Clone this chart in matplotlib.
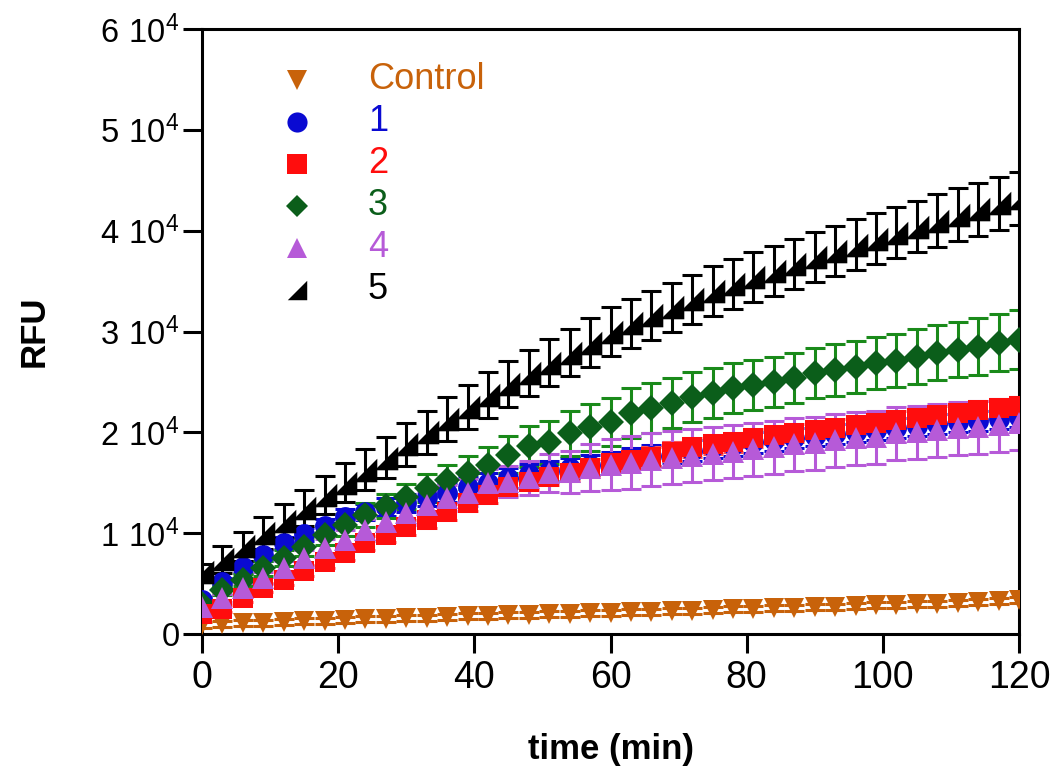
import numpy as np
import matplotlib
matplotlib.use("Agg")
import matplotlib.pyplot as plt

plt.rcParams['font.family'] = ['Liberation Sans', 'DejaVu Sans']
plt.rcParams['mathtext.fontset'] = 'custom'
plt.rcParams['mathtext.rm'] = 'Liberation Sans'

time_min = list(range(0, 121, 3))

control = [900, 1000, 1050, 1100, 1200, 1250, 1300, 1400, 1450, 1500, 1550, 1600, 1650, 1750,
           1800, 1850, 1900, 1950, 2000, 2050, 2100, 2150, 2200, 2250, 2300, 2400, 2450, 2500,
           2550, 2600, 2650, 2700, 2800, 2850, 2900, 2950, 3000, 3100, 3200, 3300, 3400]
control_err = [300] * 41

s1 = [3400, 5200, 6600, 7800, 9000, 9900, 10700, 11600, 12100, 12600, 13000, 13600, 14000, 14600,
      15000, 15500, 15900, 16200, 16500, 16800, 17100, 17400, 17700, 18000, 18200, 18500, 18700,
      19000, 19200, 19400, 19600, 19800, 20000, 20200, 20400, 20600, 20800, 21000, 21100, 21300, 21500]
s1_err = [300, 400, 500, 550, 600, 650, 700, 750, 800, 850, 900, 900, 950, 950, 1000, 1000, 1000,
          1000, 1000, 1000, 1000, 1000, 1000, 1000, 1000, 1000, 1000, 1000, 1000, 1000, 1000, 1000,
          1000, 1000, 1000, 1000, 1000, 1000, 1000, 1000, 1000]

s2 = [2000, 2500, 3600, 4600, 5400, 6300, 7100, 8000, 9000, 9800, 10600, 11300, 12100, 13000,
      13800, 14600, 15100, 15600, 16000, 16500, 17000, 17300, 17600, 18100, 18500, 18800, 19000,
      19400, 19700, 19900, 20200, 20400, 20700, 20900, 21200, 21400, 21700, 21900, 22200, 22400, 22600]
s2_err = [300, 350, 400, 450, 500, 550, 600, 650, 700, 700, 750, 750, 800, 800, 800, 850, 850, 850,
          850, 900, 900, 900, 900, 900, 900, 900, 900, 900, 900, 900, 900, 900, 900, 900, 900, 900,
          900, 900, 900, 900, 900]

s3 = [3000, 4400, 5400, 6500, 7500, 8600, 9800, 10800, 11800, 12700, 13600, 14500, 15300, 16000,
      16800, 17800, 18600, 19000, 19900, 20500, 21000, 21900, 22400, 22900, 23500, 23900, 24400,
      24700, 25000, 25400, 25900, 26200, 26500, 26900, 27100, 27500, 27900, 28200, 28500, 28900, 29200]
s3_err = [400, 500, 600, 700, 800, 900, 1000, 1100, 1150, 1200, 1250, 1400, 1500, 1650, 1750, 1850,
          2000, 2100, 2200, 2300, 2400, 2450, 2450, 2450, 2450, 2450, 2450, 2450, 2450, 2500, 2500,
          2550, 2600, 2600, 2650, 2700, 2700, 2750, 2800, 2850, 2900]

s4 = [2700, 3600, 4600, 5600, 6500, 7500, 8500, 9300, 10300, 11100, 12000, 12800, 13500, 14000,
      15000, 15100, 15500, 16000, 16100, 16500, 16800, 17000, 17300, 17500, 17700, 17900, 18100,
      18300, 18500, 18800, 18900, 19200, 19400, 19500, 19900, 20000, 20200, 20400, 20500, 20700, 20900]
s4_err = [300, 400, 500, 600, 700, 800, 900, 1000, 1100, 1150, 1200, 1250, 1300, 1350, 1400, 1550,
          1700, 1900, 2100, 2300, 2500, 2600, 2650, 2650, 2650, 2650, 2650, 2650, 2650, 2650, 2650,
          2650, 2650, 2650, 2650, 2650, 2650, 2650, 2650, 2650, 2650]

s5 = [6150, 7400, 8700, 10000, 11200, 12500, 13800, 15000, 16300, 17500, 18800, 20000, 21300, 22500,
      23700, 24800, 25900, 26900, 27900, 28900, 30000, 30800, 31600, 32400, 33200, 34000, 34700,
      35400, 36000, 36700, 37400, 38000, 38600, 39200, 39800, 40400, 41000, 41600, 42100, 42700, 43200]
s5_err = [800, 1300, 1450, 1600, 1700, 1800, 1900, 1950, 2000, 2050, 2100, 2150, 2200, 2200, 2250,
          2300, 2300, 2350, 2350, 2400, 2400, 2400, 2400, 2450, 2450, 2450, 2450, 2500, 2500, 2500,
          2500, 2500, 2550, 2550, 2550, 2550, 2600, 2600, 2600, 2600, 2600]

labels = ["Control", "1", "2", "3", "4", "5"]
x_ticks = [0, 20, 40, 60, 80, 100, 120]
y_ticks = [0, 10000, 20000, 30000, 40000, 50000, 60000]
y_ticklabels = ["0", r"$\mathregular{1\ 10^4}$", r"$\mathregular{2\ 10^4}$", r"$\mathregular{3\ 10^4}$",
                r"$\mathregular{4\ 10^4}$", r"$\mathregular{5\ 10^4}$", r"$\mathregular{6\ 10^4}$"]

right_tri = [(-1, -1), (1, -1), (1, 1), (-1, -1)]

series = [
    (control, control_err, 'v', '#c8620a', '#c8620a', 15, labels[0]),
    (s1, s1_err, 'o', '#0a0ad2', '#0a0ad2', 15, labels[1]),
    (s3, s3_err, 'D', '#0b5e1a', '#1a8a1a', 13, labels[3]),
    (s2, s2_err, 's', '#ff0d0d', '#ff5050', 15, labels[2]),
    (s4, s4_err, '^', '#b65ad8', '#b65ad8', 16, labels[4]),
    (s5, s5_err, right_tri, '#000000', '#000000', 17, labels[5]),
]
text_colors = {"Control": '#c8620a', "1": '#0a0ad2', "2": '#ff0d0d', "3": '#0b5e1a',
               "4": '#b65ad8', "5": '#000000'}

fig = plt.figure(figsize=(10.5, 7.77), dpi=100)
ax = fig.add_axes([0.1924, 0.184, 0.7781, 0.7787])

for y, e, m, c, ec, ms, lab in series:
    ax.errorbar(time_min, y, yerr=e, fmt='none', ecolor=ec, elinewidth=2.2,
                capsize=7, capthick=2.2, zorder=2)
    ax.plot(time_min, y, linestyle='none', marker=m, color=c, markersize=ms,
            markeredgewidth=0, zorder=3)

ax.set_xlim(0, 120)
ax.set_ylim(0, 60000)
ax.set_xticks(x_ticks)
ax.set_yticks(y_ticks)
ax.set_yticklabels(y_ticklabels)
ax.tick_params(axis='both', direction='out', length=14, width=2.2)
ax.tick_params(axis='x', labelsize=27, pad=5)
ax.tick_params(axis='y', labelsize=23.5, pad=2)
for sp in ax.spines.values():
    sp.set_linewidth(2.2)
ax.set_xlabel("time (min)", fontsize=25, fontweight='bold', labelpad=26)
ax.set_ylabel("RFU", fontsize=25, fontweight='bold', labelpad=36)

# legend (custom, no frame)
leg_order = [(labels[0], 'v', 15), (labels[1], 'o', 14.5), (labels[2], 's', 14.5),
             (labels[3], 'D', 11.5), (labels[4], '^', 15), (labels[5], right_tri, 14)]
for i, (lab, m, ms) in enumerate(leg_order):
    ty = 0.916 - i * 0.0694
    ax.plot([0.116], [ty], transform=ax.transAxes, marker=m, color=text_colors[lab],
            markersize=ms, markeredgewidth=0, linestyle='none', clip_on=False, zorder=5)
    ax.text(0.203, ty, lab, transform=ax.transAxes, color=text_colors[lab], fontsize=26,
            va='center', ha='left')

fig.savefig("out.png", dpi=100)
